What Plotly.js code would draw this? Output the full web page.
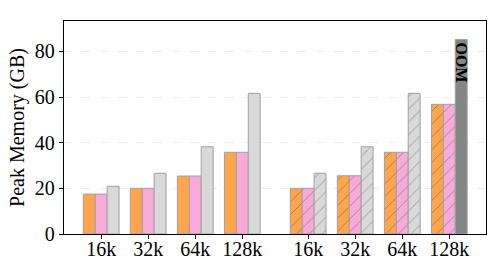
<!DOCTYPE html>
<html>
<head>
<meta charset="utf-8">
<script src="https://cdn.plot.ly/plotly-3.0.1.min.js"></script>
<style>html,body{margin:0;padding:0;background:#fff;}#chart{width:498px;height:274px;}</style>
</head>
<body>
<div id="chart"></div>
<script>
// Data
const contextLengths = ['16k', '32k', '64k', '128k'];
const tickLabels = contextLengths.concat(contextLengths);
const orangeValues = [17.5, 20.0, 25.4, 35.8, 20.0, 25.5, 35.8, 56.8];
const pinkValues   = [17.5, 20.0, 25.4, 35.8, 20.0, 25.5, 35.8, 56.8];
const grayValues   = [20.9, 26.6, 38.2, 61.6, 26.6, 38.2, 61.6, 85.2];
const hatchedGroup = [false, false, false, false, true, true, true, true];
const grayLabels   = ['', '', '', '', '', '', '', 'OOM'];

// Layout helpers
const groupGap = 0.4;
const xPos = tickLabels.map((_, i) => i + (i >= 4 ? groupGap : 0));
const shapes = hatchedGroup.map(h => h ? '/' : '');
const edge = '#a0a0a0';

function barTrace(vals, colors, patShapes, text) {
  return {
    type: 'bar', x: xPos, y: vals,
    marker: {
      color: colors,
      line: {color: edge, width: 1},
      pattern: {shape: patShapes, fillmode: 'overlay',
                fgcolor: vals.map(() => '#a6a6a6'), bgcolor: colors,
                size: 9, solidity: 0.09}
    },
    text: text || vals.map(() => ''),
    textposition: 'inside', insidetextanchor: 'end', textangle: 90,
    constraintext: 'none',
    insidetextfont: {family: 'Liberation Serif', size: 16, color: '#000', weight: 'bold'},
    hoverinfo: 'none', showlegend: false
  };
}

const grayColors = grayLabels.map(t => t ? '#858585' : '#d9d9d9');
const grayShapes = shapes.map((s, i) => grayLabels[i] ? '' : s);

const data = [
  barTrace(orangeValues, orangeValues.map(() => '#fea54e'), shapes),
  barTrace(pinkValues, pinkValues.map(() => '#f8aad8'), shapes),
  barTrace(grayValues, grayColors, grayShapes, grayLabels)
];

const layout = {
  width: 498, height: 274,
  margin: {l: 64, r: 12, t: 21, b: 40},
  paper_bgcolor: '#fff', plot_bgcolor: '#fff',
  barmode: 'group', bargap: 0.24, bargroupgap: 0,
  font: {family: 'Liberation Serif', size: 20, color: '#000'},
  xaxis: {
    range: [-0.79, 8.18], tickvals: xPos, ticktext: tickLabels,
    ticks: 'outside', ticklen: 4, tickcolor: '#000',
    ticklabelstandoff: -7,
    showline: true, linecolor: '#000', linewidth: 1.2, mirror: true,
    showgrid: false, zeroline: false,
    tickfont: {family: 'Liberation Serif', size: 20}
  },
  yaxis: {
    range: [0, 93.3], tickvals: [0, 20, 40, 60, 80],
    ticks: 'outside', ticklen: 4, tickcolor: '#000',
    showline: true, linecolor: '#000', linewidth: 1.2, mirror: true,
    showgrid: true, gridcolor: '#ececec', griddash: 'dash', gridwidth: 1,
    zeroline: false,
    tickfont: {family: 'Liberation Serif', size: 20},
    title: {text: 'Peak Memory (GB)', font: {family: 'Liberation Serif', size: 20}, standoff: 4}
  }
};

Plotly.newPlot('chart', data, layout, {displayModeBar: false, staticPlot: true});
</script>
</body>
</html>
